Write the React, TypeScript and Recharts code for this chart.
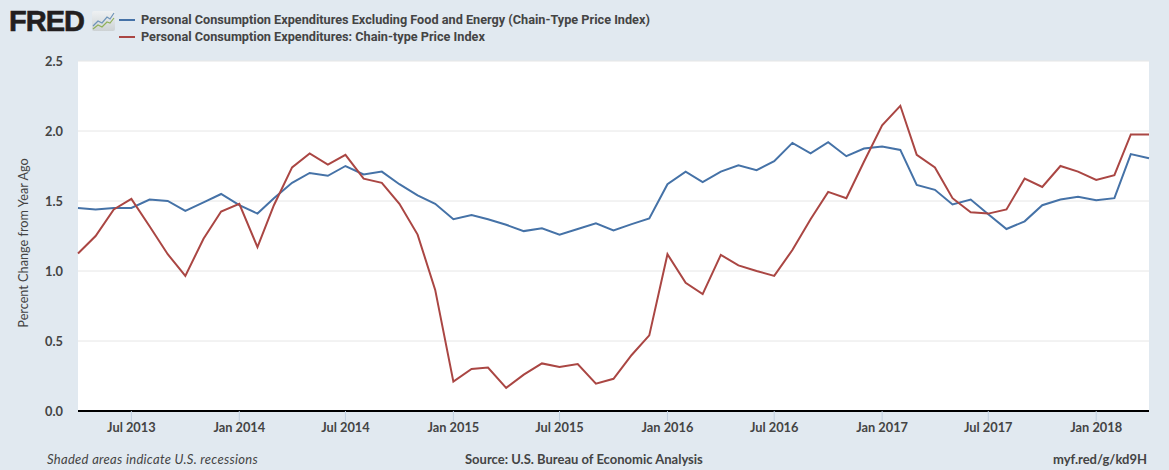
import React from "react";
import { LineChart, Line, XAxis, YAxis, CartesianGrid, Legend, Label } from "recharts";

const months = [
  "2013-04", "2013-05", "2013-06", "2013-07", "2013-08", "2013-09", "2013-10", "2013-11", "2013-12",
  "2014-01", "2014-02", "2014-03", "2014-04", "2014-05", "2014-06", "2014-07", "2014-08", "2014-09", "2014-10", "2014-11", "2014-12",
  "2015-01", "2015-02", "2015-03", "2015-04", "2015-05", "2015-06", "2015-07", "2015-08", "2015-09", "2015-10", "2015-11", "2015-12",
  "2016-01", "2016-02", "2016-03", "2016-04", "2016-05", "2016-06", "2016-07", "2016-08", "2016-09", "2016-10", "2016-11", "2016-12",
  "2017-01", "2017-02", "2017-03", "2017-04", "2017-05", "2017-06", "2017-07", "2017-08", "2017-09", "2017-10", "2017-11", "2017-12",
  "2018-01", "2018-02", "2018-03", "2018-04",
];

const coreValues = [
  1.45, 1.44, 1.45, 1.45, 1.51, 1.5, 1.43, 1.49, 1.55,
  1.47, 1.41, 1.52, 1.63, 1.7, 1.68, 1.75, 1.69, 1.71, 1.62, 1.54, 1.48,
  1.37, 1.4, 1.37, 1.33, 1.285, 1.305, 1.26, 1.3, 1.34, 1.29, 1.335, 1.375,
  1.62, 1.71, 1.635, 1.71, 1.755, 1.72, 1.785, 1.915, 1.84, 1.92, 1.82, 1.875,
  1.89, 1.865, 1.615, 1.58, 1.475, 1.51, 1.405, 1.3, 1.355, 1.47, 1.51, 1.53,
  1.505, 1.52, 1.835, 1.805,
];

const headlineValues = [
  1.125, 1.25, 1.44, 1.515, 1.32, 1.12, 0.965, 1.23, 1.425,
  1.48, 1.17, 1.47, 1.74, 1.84, 1.76, 1.83, 1.66, 1.63, 1.48, 1.26, 0.865,
  0.21, 0.3, 0.31, 0.165, 0.26, 0.34, 0.315, 0.335, 0.195, 0.23, 0.4, 0.54,
  1.12, 0.915, 0.835, 1.115, 1.04, 1.0, 0.965, 1.15, 1.37, 1.565, 1.52, 1.78,
  2.04, 2.18, 1.83, 1.74, 1.52, 1.42, 1.41, 1.44, 1.66, 1.6, 1.75, 1.71,
  1.65, 1.685, 1.975, 1.975,
];

const xTickMonths = ["2013-07", "2014-01", "2014-07", "2015-01", "2015-07", "2016-01", "2016-07", "2017-01", "2017-07", "2018-01"];
const yTicks = [0, 0.5, 1, 1.5, 2, 2.5];

const coreName = "Personal Consumption Expenditures Excluding Food and Energy (Chain-Type Price Index)";
const headlineName = "Personal Consumption Expenditures: Chain-type Price Index";
const monthNames = ["Jan", "Feb", "Mar", "Apr", "May", "Jun", "Jul", "Aug", "Sep", "Oct", "Nov", "Dec"];

const toTime = (m: string) => Date.parse(m + "-01T00:00:00Z");
const formatMonth = (t: number) => {
  const d = new Date(t);
  return monthNames[d.getUTCMonth()] + " " + d.getUTCFullYear();
};

const data = months.map((m, i) => ({ time: toTime(m), core: coreValues[i], headline: headlineValues[i] }));

const LEGEND_FONT = "Roboto, 'Liberation Sans', sans-serif";
const FONT = "Lato, 'Liberation Sans', sans-serif";
const TEXT = "#444444";

function FredLogo() {
  return (
    <div style={{ position: "absolute", left: 0, top: 0 }}>
      <div
        style={{
          position: "absolute",
          left: 9,
          top: 5,
          fontFamily: "'Liberation Sans', sans-serif",
          fontWeight: 700,
          fontSize: 29,
          lineHeight: "33px",
          letterSpacing: -1,
          color: "#231f20",
          WebkitTextStroke: "0.6px #231f20",
        }}
      >
        FRED
      </div>
      <svg style={{ position: "absolute", left: 92, top: 10 }} width={23} height={22}>
        <defs>
          <linearGradient id="iconBg" x1="0" y1="0" x2="0" y2="1">
            <stop offset="0" stopColor="#eef1f3" />
            <stop offset="1" stopColor="#cdd2d4" />
          </linearGradient>
        </defs>
        <rect x={0} y={1} width={23} height={20} rx={2} fill="url(#iconBg)" />
        <polyline points="1,16 6,11 10,13 15,7 18,9 22,3" fill="none" stroke="#6d93b8" strokeWidth={1.2} />
        <polyline points="1,19 6,15 10,17 15,12 18,13 22,8" fill="none" stroke="#8fb05a" strokeWidth={1.2} />
      </svg>
    </div>
  );
}

function LegendRows({ payload }: any) {
  return (
    <div style={{ fontFamily: LEGEND_FONT, fontWeight: 700, fontSize: 12.7, color: TEXT }}>
      {(payload || []).map((p: any) => (
        <div key={p.value} style={{ height: 17, lineHeight: "17px", display: "flex", alignItems: "center", whiteSpace: "nowrap" }}>
          <span style={{ display: "inline-block", width: 16, height: 2, background: p.color, marginRight: 6 }} />
          {p.value}
        </div>
      ))}
    </div>
  );
}

export default function App() {
  return (
    <div style={{ position: "absolute", left: 0, top: 0, width: 1169, height: 470, background: "#e1e9f0", overflow: "hidden" }}>
      <LineChart width={1169} height={470} data={data} margin={{ top: 61, right: 20, bottom: 0, left: 18 }}>
        <CartesianGrid vertical={false} stroke="#e6e6e6" fill="#ffffff" />
        <XAxis
          dataKey="time"
          type="number"
          scale="time"
          domain={[toTime("2013-04"), toTime("2018-04")]}
          ticks={xTickMonths.map(toTime)}
          interval={0}
          tickFormatter={formatMonth}
          height={59}
          axisLine={{ stroke: "#000000", strokeWidth: 2 }}
          tickLine={{ stroke: "#c0d0e0" }}
          tickSize={10}
          tickMargin={2}
          tick={{ fontFamily: FONT, fontWeight: 700, fontSize: 12.8, fill: TEXT }}
        />
        <YAxis
          domain={[0, 2.5]}
          ticks={yTicks}
          tickFormatter={(v: number) => v.toFixed(1)}
          width={60}
          axisLine={false}
          tickLine={false}
          tickMargin={0}
          tickSize={15}
          tick={{ fontFamily: FONT, fontWeight: 700, fontSize: 12.8, fill: TEXT }}
        >
          <Label
            value="Percent Change from Year Ago"
            angle={-90}
            position="insideLeft"
            offset={0}
            dx={5}
            dy={7}
            style={{ fontFamily: FONT, fontSize: 12.7, fontWeight: 400, fill: TEXT, textAnchor: "middle" }}
          />
        </YAxis>
        <Legend
          verticalAlign="middle"
          align="center"
          layout="vertical"
          content={<LegendRows />}
          wrapperStyle={{ position: "absolute", left: 119, top: 11, width: 700 }}
        />
        <Line name={coreName} dataKey="core" stroke="#4572a7" strokeWidth={2} dot={false} isAnimationActive={false} />
        <Line name={headlineName} dataKey="headline" stroke="#aa4643" strokeWidth={2} dot={false} isAnimationActive={false} />
      </LineChart>
      <FredLogo />
      <div style={{ position: "absolute", left: 47, top: 451, fontFamily: FONT, fontStyle: "italic", fontSize: 13, letterSpacing: 0.3, color: TEXT }}>
        Shaded areas indicate U.S. recessions
      </div>
      <div style={{ position: "absolute", left: 465, top: 451, fontFamily: FONT, fontWeight: 700, fontSize: 13, color: TEXT }}>
        Source: U.S. Bureau of Economic Analysis
      </div>
      <div style={{ position: "absolute", right: 22, top: 451, fontFamily: FONT, fontWeight: 700, fontSize: 13, color: TEXT }}>
        myf.red/g/kd9H
      </div>
    </div>
  );
}
